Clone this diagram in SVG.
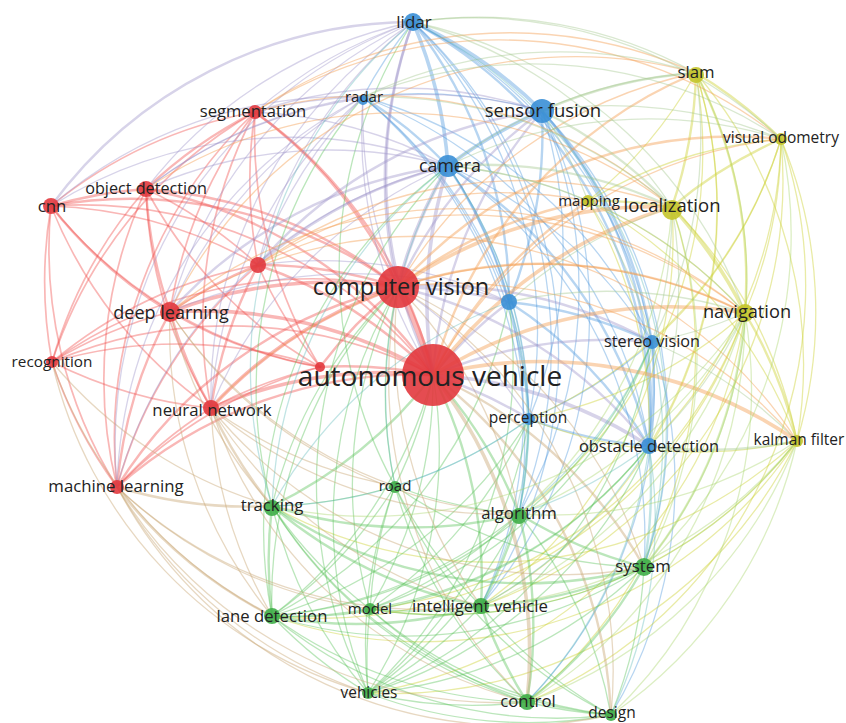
<svg xmlns="http://www.w3.org/2000/svg" width="846" height="723" viewBox="0 0 846 723">
<style>
path{fill:none;stroke-width:1.3;stroke-linecap:round}
.r path{stroke:#f04a48;stroke-opacity:.4;stroke-width:1.7}
.b path{stroke:#4a97dc;stroke-opacity:.4}
.y path{stroke:#cfd23a;stroke-opacity:.45}
.g path{stroke:#55c055;stroke-opacity:.4}
.o path{stroke:#f3a055;stroke-opacity:.45}
.p path{stroke:#9a90c8;stroke-opacity:.4}
.t path{stroke:#5cb8b8;stroke-opacity:.38}
.k path{stroke:#c9a878;stroke-opacity:.45}
.l path{stroke:#a8d468;stroke-opacity:.4}
.c path{stroke:#a5c890;stroke-opacity:.42}
path.w2{stroke-width:2.4}
path.w3{stroke-width:3.6}
path.w5{stroke-width:6}
.nr{fill:#e2393e;fill-opacity:.9}
.nb{fill:#3a8fd6;fill-opacity:.9}
.ny{fill:#c4c42a;fill-opacity:.9}
.ng{fill:#3fae48;fill-opacity:.9}
text{font-family:"Open Sans","Noto Sans","Liberation Sans",sans-serif;fill:#222;text-anchor:middle}
</style>
<rect width="846" height="723" fill="#fff"/>
<g id="connectors">
<g class="r">
<path d="M117 487A450 450 0 0 1 211 408"/>
<path d="M117 487A450 450 0 0 1 52 362"/>
<path class="w2" d="M117 487A450 450 0 0 1 170 312"/>
<path d="M117 487A450 450 0 0 1 51 206"/>
<path d="M117 487A450 450 0 0 1 146 189"/>
<path d="M117 487A450 450 0 0 1 258 265"/>
<path d="M117 487A450 450 0 0 1 255 112"/>
<path class="w2" d="M117 487A450 450 0 0 1 398 287"/>
<path d="M117 487A450 450 0 0 1 320 367"/>
<path d="M211 408A450 450 0 0 1 52 362"/>
<path d="M211 408A450 450 0 0 1 320 367"/>
<path class="w2" d="M211 408A450 450 0 0 1 170 312"/>
<path d="M211 408A450 450 0 0 1 51 206"/>
<path d="M211 408A450 450 0 0 1 146 189"/>
<path class="w2" d="M211 408A450 450 0 0 1 258 265"/>
<path d="M211 408A450 450 0 0 1 255 112"/>
<path class="w3" d="M211 408A450 450 0 0 1 398 287"/>
<path d="M52 362A450 450 0 0 1 170 312"/>
<path d="M52 362A450 450 0 0 1 51 206"/>
<path d="M52 362A450 450 0 0 1 146 189"/>
<path d="M52 362A450 450 0 0 1 258 265"/>
<path d="M52 362A450 450 0 0 1 398 287"/>
<path d="M52 362A450 450 0 0 1 255 112"/>
<path d="M52 362A450 450 0 0 1 320 367"/>
<path d="M320 367A450 450 0 0 1 170 312"/>
<path class="w2" d="M320 367A450 450 0 0 1 398 287"/>
<path d="M320 367A450 450 0 0 1 51 206"/>
<path d="M320 367A450 450 0 0 1 146 189"/>
<path d="M320 367A450 450 0 0 1 258 265"/>
<path d="M320 367A450 450 0 0 1 255 112"/>
<path class="w2" d="M170 312A450 450 0 0 1 51 206"/>
<path class="w2" d="M170 312A450 450 0 0 1 146 189"/>
<path class="w2" d="M170 312A450 450 0 0 1 258 265"/>
<path d="M170 312A450 450 0 0 1 255 112"/>
<path class="w3" d="M170 312A450 450 0 0 1 398 287"/>
<path class="w2" d="M51 206A450 450 0 0 1 146 189"/>
<path d="M51 206A450 450 0 0 1 258 265"/>
<path d="M51 206A450 450 0 0 1 255 112"/>
<path class="w2" d="M51 206A450 450 0 0 1 398 287"/>
<path d="M146 189A450 450 0 0 1 258 265"/>
<path class="w2" d="M146 189A450 450 0 0 1 255 112"/>
<path class="w2" d="M146 189A450 450 0 0 1 398 287"/>
<path d="M258 265A450 450 0 0 1 255 112"/>
<path class="w2" d="M258 265A450 450 0 0 1 398 287"/>
<path class="w2" d="M255 112A450 450 0 0 1 398 287"/>
<path class="w5" d="M398 287A450 450 0 0 1 433 375"/>
<path class="w3" d="M170 312A450 450 0 0 1 433 375"/>
<path class="w3" d="M211 408A450 450 0 0 1 433 375"/>
<path class="w2" d="M117 487A450 450 0 0 1 433 375"/>
<path d="M51 206A450 450 0 0 1 433 375"/>
<path class="w2" d="M146 189A450 450 0 0 1 433 375"/>
<path class="w2" d="M255 112A450 450 0 0 1 433 375"/>
<path d="M52 362A450 450 0 0 1 433 375"/>
<path class="w2" d="M258 265A450 450 0 0 1 433 375"/>
<path class="w2" d="M320 367A450 450 0 0 1 433 375"/>
</g>
<g class="b">
<path d="M363 97A450 450 0 0 1 413 22"/>
<path class="w2" d="M363 97A450 450 0 0 1 448 166"/>
<path d="M363 97A450 450 0 0 1 542 111"/>
<path d="M363 97A450 450 0 0 1 509 302"/>
<path d="M363 97A450 450 0 0 1 652 342"/>
<path d="M363 97A450 450 0 0 1 649 446"/>
<path d="M363 97A450 450 0 0 1 529 419"/>
<path class="w3" d="M413 22A450 450 0 0 1 448 166"/>
<path class="w3" d="M413 22A450 450 0 0 1 542 111"/>
<path class="w2" d="M413 22A450 450 0 0 1 509 302"/>
<path d="M413 22A450 450 0 0 1 652 342"/>
<path class="w2" d="M413 22A450 450 0 0 1 649 446"/>
<path d="M413 22A450 450 0 0 1 529 419"/>
<path class="w3" d="M448 166A450 450 0 0 1 542 111"/>
<path class="w2" d="M448 166A450 450 0 0 1 509 302"/>
<path d="M448 166A450 450 0 0 1 652 342"/>
<path class="w2" d="M448 166A450 450 0 0 1 649 446"/>
<path d="M448 166A450 450 0 0 1 529 419"/>
<path class="w2" d="M542 111A450 450 0 0 1 509 302"/>
<path class="w2" d="M542 111A450 450 0 0 1 652 342"/>
<path class="w2" d="M542 111A450 450 0 0 1 649 446"/>
<path d="M542 111A450 450 0 0 1 529 419"/>
<path class="w2" d="M509 302A450 450 0 0 1 652 342"/>
<path class="w2" d="M509 302A450 450 0 0 1 649 446"/>
<path d="M509 302A450 450 0 0 1 529 419"/>
<path class="w2" d="M652 342A450 450 0 0 1 649 446"/>
<path d="M652 342A450 450 0 0 1 529 419"/>
<path class="w2" d="M649 446A450 450 0 0 1 529 419"/>
<path d="M413 22A450 450 0 0 1 519 514"/>
<path d="M413 22A450 450 0 0 1 481 606"/>
<path d="M448 166A450 450 0 0 1 481 606"/>
<path d="M448 166A450 450 0 0 1 644 567"/>
<path d="M363 97A450 450 0 0 1 519 514"/>
<path d="M542 111A450 450 0 0 1 644 567"/>
<path d="M542 111A450 450 0 0 1 519 514"/>
<path d="M542 111A450 450 0 0 1 481 606"/>
<path d="M652 342A450 450 0 0 1 527 702"/>
<path d="M652 342A450 450 0 0 1 611 715"/>
</g>
<g class="y">
<path class="w2" d="M696 73A450 450 0 0 1 672 207"/>
<path class="w2" d="M696 73A450 450 0 0 1 781 139"/>
<path class="w2" d="M696 73A450 450 0 0 1 745 313"/>
<path d="M696 73A450 450 0 0 1 797 441"/>
<path d="M696 73A450 450 0 0 1 588 201"/>
<path class="w2" d="M588 201A450 450 0 0 1 672 207"/>
<path d="M588 201A450 450 0 0 1 781 139"/>
<path d="M588 201A450 450 0 0 1 745 313"/>
<path d="M588 201A450 450 0 0 1 797 441"/>
<path class="w2" d="M672 207A450 450 0 0 1 781 139"/>
<path class="w3" d="M672 207A450 450 0 0 1 745 313"/>
<path d="M672 207A450 450 0 0 1 797 441"/>
<path d="M781 139A450 450 0 0 1 745 313"/>
<path d="M781 139A450 450 0 0 1 797 441"/>
<path class="w2" d="M745 313A450 450 0 0 1 797 441"/>
<path d="M745 313A450 450 0 0 1 368 693"/>
<path d="M745 313A450 450 0 0 1 370 609"/>
<path d="M745 313A450 450 0 0 1 272 616"/>
<path d="M797 441A450 450 0 0 1 368 693"/>
<path d="M797 441A450 450 0 0 1 370 609"/>
<path d="M672 207A450 450 0 0 1 527 702"/>
<path d="M672 207A450 450 0 0 1 481 606"/>
<path d="M696 73A450 450 0 0 1 519 514"/>
<path d="M781 139A450 450 0 0 1 527 702"/>
<path d="M696 73A450 450 0 0 1 481 606"/>
<path d="M781 139A450 450 0 0 1 481 606"/>
<path d="M797 441A450 450 0 0 1 272 506"/>
<path d="M797 441A450 450 0 0 1 272 616"/>
<path d="M696 73A450 450 0 0 1 649 446"/>
<path d="M781 139A450 450 0 0 1 649 446"/>
<path d="M781 139A450 450 0 0 1 652 342"/>
<path d="M797 441A450 450 0 0 1 529 419"/>
<path d="M781 139A450 450 0 0 1 529 419"/>
<path d="M745 313A450 450 0 0 1 529 419"/>
<path d="M588 201A450 450 0 0 1 649 446"/>
</g>
<g class="g">
<path class="w2" d="M644 567A450 450 0 0 1 519 514"/>
<path d="M644 567A450 450 0 0 1 611 715"/>
<path class="w2" d="M644 567A450 450 0 0 1 527 702"/>
<path class="w2" d="M644 567A450 450 0 0 1 481 606"/>
<path d="M644 567A450 450 0 0 1 368 693"/>
<path d="M644 567A450 450 0 0 1 370 609"/>
<path d="M644 567A450 450 0 0 1 395 486"/>
<path d="M644 567A450 450 0 0 1 272 616"/>
<path class="w2" d="M644 567A450 450 0 0 1 272 506"/>
<path d="M519 514A450 450 0 0 1 611 715"/>
<path class="w2" d="M519 514A450 450 0 0 1 527 702"/>
<path class="w2" d="M519 514A450 450 0 0 1 481 606"/>
<path d="M519 514A450 450 0 0 1 368 693"/>
<path d="M519 514A450 450 0 0 1 370 609"/>
<path d="M519 514A450 450 0 0 1 395 486"/>
<path d="M519 514A450 450 0 0 1 272 616"/>
<path class="w2" d="M519 514A450 450 0 0 1 272 506"/>
<path d="M611 715A450 450 0 0 1 527 702"/>
<path d="M611 715A450 450 0 0 1 481 606"/>
<path d="M611 715A450 450 0 0 1 368 693"/>
<path d="M611 715A450 450 0 0 1 370 609"/>
<path d="M611 715A450 450 0 0 1 395 486"/>
<path d="M611 715A450 450 0 0 1 272 616"/>
<path d="M611 715A450 450 0 0 1 272 506"/>
<path class="w2" d="M527 702A450 450 0 0 1 481 606"/>
<path d="M527 702A450 450 0 0 1 368 693"/>
<path d="M527 702A450 450 0 0 1 370 609"/>
<path d="M527 702A450 450 0 0 1 395 486"/>
<path d="M527 702A450 450 0 0 1 272 616"/>
<path d="M527 702A450 450 0 0 1 272 506"/>
<path d="M481 606A450 450 0 0 1 368 693"/>
<path d="M481 606A450 450 0 0 1 370 609"/>
<path d="M481 606A450 450 0 0 1 395 486"/>
<path class="w2" d="M481 606A450 450 0 0 1 272 616"/>
<path class="w2" d="M481 606A450 450 0 0 1 272 506"/>
<path d="M368 693A450 450 0 0 1 370 609"/>
<path d="M368 693A450 450 0 0 1 395 486"/>
<path d="M368 693A450 450 0 0 1 272 616"/>
<path d="M368 693A450 450 0 0 1 272 506"/>
<path d="M370 609A450 450 0 0 1 395 486"/>
<path d="M370 609A450 450 0 0 1 272 616"/>
<path d="M370 609A450 450 0 0 1 272 506"/>
<path d="M395 486A450 450 0 0 1 272 616"/>
<path d="M395 486A450 450 0 0 1 272 506"/>
<path class="w2" d="M272 616A450 450 0 0 1 272 506"/>
<path class="w2" d="M433 375A450 450 0 0 1 272 506"/>
<path d="M433 375A450 450 0 0 1 395 486"/>
<path class="w2" d="M433 375A450 450 0 0 1 519 514"/>
<path d="M433 375A450 450 0 0 1 272 616"/>
<path d="M433 375A450 450 0 0 1 370 609"/>
<path class="w2" d="M433 375A450 450 0 0 1 481 606"/>
<path d="M433 375A450 450 0 0 1 368 693"/>
<path d="M272 506A450 450 0 0 1 398 287"/>
<path d="M395 486A450 450 0 0 1 398 287"/>
<path d="M272 616A450 450 0 0 1 398 287"/>
<path d="M370 609A450 450 0 0 1 398 287"/>
<path d="M368 693A450 450 0 0 1 398 287"/>
<path d="M649 446A450 450 0 0 1 272 616"/>
<path d="M652 342A450 450 0 0 1 272 616"/>
<path d="M649 446A450 450 0 0 1 368 693"/>
<path d="M652 342A450 450 0 0 1 368 693"/>
<path d="M649 446A450 450 0 0 1 370 609"/>
<path d="M529 419A450 450 0 0 1 272 616"/>
<path d="M529 419A450 450 0 0 1 368 693"/>
<path d="M529 419A450 450 0 0 1 370 609"/>
<path d="M652 342A450 450 0 0 1 370 609"/>
<path d="M509 302A450 450 0 0 1 272 616"/>
<path d="M509 302A450 450 0 0 1 368 693"/>
<path d="M272 616A450 450 0 0 1 448 166"/>
<path d="M368 693A450 450 0 0 1 448 166"/>
<path d="M272 506A450 450 0 0 1 363 97"/>
<path d="M395 486A450 450 0 0 1 413 22"/>
</g>
<g class="k">
<path class="w2" d="M433 375A450 450 0 0 1 644 567"/>
<path class="w3" d="M433 375A450 450 0 0 1 527 702"/>
<path class="w2" d="M433 375A450 450 0 0 1 611 715"/>
<path d="M398 287A450 450 0 0 1 519 514"/>
<path d="M398 287A450 450 0 0 1 644 567"/>
<path d="M481 606A450 450 0 0 1 398 287"/>
<path d="M527 702A450 450 0 0 1 398 287"/>
<path d="M398 287A450 450 0 0 1 611 715"/>
<path d="M368 693A450 450 0 0 1 117 487"/>
<path d="M527 702A450 450 0 0 1 117 487"/>
<path d="M611 715A450 450 0 0 1 117 487"/>
<path class="w2" d="M272 616A450 450 0 0 1 117 487"/>
<path class="w2" d="M272 506A450 450 0 0 1 117 487"/>
<path d="M370 609A450 450 0 0 1 117 487"/>
<path d="M481 606A450 450 0 0 1 117 487"/>
<path d="M368 693A450 450 0 0 1 52 362"/>
<path d="M272 616A450 450 0 0 1 52 362"/>
<path d="M272 506A450 450 0 0 1 52 362"/>
<path class="w2" d="M272 506A450 450 0 0 1 211 408"/>
<path d="M272 616A450 450 0 0 1 211 408"/>
<path d="M395 486A450 450 0 0 1 211 408"/>
<path d="M519 514A450 450 0 0 1 211 408"/>
<path d="M481 606A450 450 0 0 1 211 408"/>
<path d="M527 702A450 450 0 0 1 211 408"/>
<path d="M644 567A450 450 0 0 1 211 408"/>
<path d="M272 506A450 450 0 0 1 170 312"/>
<path d="M519 514A450 450 0 0 1 170 312"/>
<path d="M272 616A450 450 0 0 1 170 312"/>
<path d="M395 486A450 450 0 0 1 170 312"/>
</g>
<g class="p">
<path class="w2" d="M433 375A450 450 0 0 1 413 22"/>
<path d="M433 375A450 450 0 0 1 363 97"/>
<path class="w2" d="M433 375A450 450 0 0 1 542 111"/>
<path class="w3" d="M433 375A450 450 0 0 1 448 166"/>
<path class="w2" d="M433 375A450 450 0 0 1 509 302"/>
<path class="w2" d="M433 375A450 450 0 0 1 652 342"/>
<path class="w2" d="M433 375A450 450 0 0 1 529 419"/>
<path class="w3" d="M433 375A450 450 0 0 1 649 446"/>
<path class="w2" d="M398 287A450 450 0 0 1 413 22"/>
<path d="M398 287A450 450 0 0 1 363 97"/>
<path class="w2" d="M398 287A450 450 0 0 1 542 111"/>
<path class="w3" d="M398 287A450 450 0 0 1 448 166"/>
<path class="w2" d="M398 287A450 450 0 0 1 509 302"/>
<path class="w2" d="M398 287A450 450 0 0 1 652 342"/>
<path d="M398 287A450 450 0 0 1 529 419"/>
<path class="w2" d="M398 287A450 450 0 0 1 649 446"/>
<path d="M255 112A450 450 0 0 1 413 22"/>
<path d="M255 112A450 450 0 0 1 448 166"/>
<path d="M255 112A450 450 0 0 1 363 97"/>
<path d="M146 189A450 450 0 0 1 413 22"/>
<path class="w2" d="M51 206A450 450 0 0 1 413 22"/>
<path class="w2" d="M258 265A450 450 0 0 1 448 166"/>
<path d="M258 265A450 450 0 0 1 413 22"/>
<path class="w2" d="M170 312A450 450 0 0 1 448 166"/>
<path d="M170 312A450 450 0 0 1 413 22"/>
<path d="M146 189A450 450 0 0 1 448 166"/>
<path d="M255 112A450 450 0 0 1 542 111"/>
<path class="w2" d="M258 265A450 450 0 0 1 542 111"/>
<path d="M258 265A450 450 0 0 1 509 302"/>
<path d="M170 312A450 450 0 0 1 509 302"/>
<path d="M211 408A450 450 0 0 1 448 166"/>
<path d="M146 189A450 450 0 0 1 363 97"/>
<path d="M51 206A450 450 0 0 1 363 97"/>
<path d="M170 312A450 450 0 0 1 363 97"/>
<path d="M211 408A450 450 0 0 1 363 97"/>
<path d="M258 265A450 450 0 0 1 363 97"/>
<path d="M117 487A450 450 0 0 1 363 97"/>
<path d="M51 206A450 450 0 0 1 448 166"/>
<path d="M146 189A450 450 0 0 1 542 111"/>
<path d="M211 408A450 450 0 0 1 413 22"/>
<path d="M117 487A450 450 0 0 1 413 22"/>
<path d="M117 487A450 450 0 0 1 448 166"/>
</g>
<g class="o">
<path class="w2" d="M433 375A450 450 0 0 1 696 73"/>
<path d="M433 375A450 450 0 0 1 781 139"/>
<path class="w2" d="M433 375A450 450 0 0 1 588 201"/>
<path class="w3" d="M433 375A450 450 0 0 1 672 207"/>
<path class="w3" d="M433 375A450 450 0 0 1 745 313"/>
<path class="w3" d="M433 375A450 450 0 0 1 797 441"/>
<path d="M398 287A450 450 0 0 1 696 73"/>
<path class="w2" d="M398 287A450 450 0 0 1 781 139"/>
<path class="w2" d="M398 287A450 450 0 0 1 588 201"/>
<path class="w3" d="M398 287A450 450 0 0 1 672 207"/>
<path class="w2" d="M398 287A450 450 0 0 1 745 313"/>
<path d="M398 287A450 450 0 0 1 797 441"/>
<path d="M258 265A450 450 0 0 1 672 207"/>
<path d="M258 265A450 450 0 0 1 588 201"/>
<path d="M170 312A450 450 0 0 1 745 313"/>
<path d="M255 112A450 450 0 0 1 696 73"/>
<path d="M255 112A450 450 0 0 1 672 207"/>
<path d="M258 265A450 450 0 0 1 745 313"/>
<path d="M211 408A450 450 0 0 1 745 313"/>
<path d="M170 312A450 450 0 0 1 797 441"/>
<path d="M170 312A450 450 0 0 1 696 73"/>
<path d="M255 112A450 450 0 0 1 781 139"/>
<path d="M146 189A450 450 0 0 1 672 207"/>
</g>
<g class="c">
<path class="w2" d="M448 166A450 450 0 0 1 672 207"/>
<path d="M448 166A450 450 0 0 1 588 201"/>
<path d="M448 166A450 450 0 0 1 696 73"/>
<path d="M448 166A450 450 0 0 1 781 139"/>
<path class="w2" d="M542 111A450 450 0 0 1 696 73"/>
<path class="w2" d="M542 111A450 450 0 0 1 672 207"/>
<path d="M542 111A450 450 0 0 1 588 201"/>
<path d="M542 111A450 450 0 0 1 781 139"/>
<path d="M413 22A450 450 0 0 1 696 73"/>
<path d="M413 22A450 450 0 0 1 672 207"/>
<path d="M413 22A450 450 0 0 1 781 139"/>
<path d="M413 22A450 450 0 0 1 745 313"/>
<path d="M363 97A450 450 0 0 1 696 73"/>
<path d="M363 97A450 450 0 0 1 781 139"/>
<path d="M363 97A450 450 0 0 1 672 207"/>
<path d="M745 313A450 450 0 0 1 652 342"/>
<path d="M652 342A450 450 0 0 1 797 441"/>
<path class="w2" d="M797 441A450 450 0 0 1 649 446"/>
<path d="M745 313A450 450 0 0 1 649 446"/>
<path d="M672 207A450 450 0 0 1 652 342"/>
<path d="M509 302A450 450 0 0 1 745 313"/>
<path d="M588 201A450 450 0 0 1 652 342"/>
<path d="M672 207A450 450 0 0 1 649 446"/>
<path d="M696 73A450 450 0 0 1 652 342"/>
<path d="M448 166A450 450 0 0 1 745 313"/>
<path d="M509 302A450 450 0 0 1 672 207"/>
</g>
<g class="t">
<path class="w2" d="M649 446A450 450 0 0 1 644 567"/>
<path d="M529 419A450 450 0 0 1 519 514"/>
<path d="M652 342A450 450 0 0 1 644 567"/>
<path d="M649 446A450 450 0 0 1 519 514"/>
<path d="M272 506A450 450 0 0 1 448 166"/>
<path d="M272 506A450 450 0 0 1 413 22"/>
<path d="M529 419A450 450 0 0 1 481 606"/>
<path d="M509 302A450 450 0 0 1 519 514"/>
<path d="M649 446A450 450 0 0 1 527 702"/>
<path d="M652 342A450 450 0 0 1 519 514"/>
<path d="M413 22A450 450 0 0 1 644 567"/>
<path d="M395 486A450 450 0 0 1 448 166"/>
<path d="M649 446A450 450 0 0 1 481 606"/>
<path d="M529 419A450 450 0 0 1 272 506"/>
<path d="M272 506A450 450 0 0 1 509 302"/>
<path d="M448 166A450 450 0 0 1 519 514"/>
<path d="M529 419A450 450 0 0 1 395 486"/>
<path d="M649 446A450 450 0 0 1 611 715"/>
</g>
<g class="l">
<path class="w2" d="M745 313A450 450 0 0 1 644 567"/>
<path d="M797 441A450 450 0 0 1 644 567"/>
<path d="M672 207A450 450 0 0 1 644 567"/>
<path d="M745 313A450 450 0 0 1 519 514"/>
<path d="M797 441A450 450 0 0 1 527 702"/>
<path d="M745 313A450 450 0 0 1 527 702"/>
<path d="M745 313A450 450 0 0 1 481 606"/>
<path d="M781 139A450 450 0 0 1 644 567"/>
<path d="M797 441A450 450 0 0 1 519 514"/>
<path d="M672 207A450 450 0 0 1 519 514"/>
<path d="M696 73A450 450 0 0 1 644 567"/>
<path d="M745 313A450 450 0 0 1 611 715"/>
<path d="M797 441A450 450 0 0 1 611 715"/>
<path d="M797 441A450 450 0 0 1 481 606"/>
<path d="M745 313A450 450 0 0 1 272 506"/>
</g>
</g>
<g id="n-av"><circle class="nr" cx="433" cy="375" r="31"/><text x="430" y="376" dy=".35em" font-size="28">autonomous vehicle</text></g>
<g id="n-cv"><circle class="nr" cx="398" cy="287" r="21"/><text x="401" y="287" dy=".35em" font-size="23.5">computer vision</text></g>
<g id="n-dl"><circle class="nr" cx="170" cy="312" r="10"/><text x="171" y="313" dy=".35em" font-size="18">deep learning</text></g>
<g id="n-nn"><circle class="nr" cx="211" cy="408" r="8"/><text x="212" y="410" dy=".35em" font-size="16.8">neural network</text></g>
<g id="n-ml"><circle class="nr" cx="117" cy="487" r="7"/><text x="116" y="486" dy=".35em" font-size="16.8">machine learning</text></g>
<g id="n-cnn"><circle class="nr" cx="51" cy="206" r="8"/><text x="52" y="206" dy=".35em" font-size="16.8">cnn</text></g>
<g id="n-od"><circle class="nr" cx="146" cy="189" r="8"/><text x="146" y="188" dy=".35em" font-size="16.2">object detection</text></g>
<g id="n-seg"><circle class="nr" cx="255" cy="112" r="7"/><text x="253" y="111" dy=".35em" font-size="16.6">segmentation</text></g>
<g id="n-rec"><circle class="nr" cx="52" cy="362" r="6"/><text x="52" y="362" dy=".35em" font-size="15.3">recognition</text></g>
<g id="n-r1"><circle class="nr" cx="258" cy="265" r="8"/></g>
<g id="n-r2"><circle class="nr" cx="320" cy="367" r="5"/></g>
<g id="n-lid"><circle class="nb" cx="413" cy="22" r="9"/><text x="414" y="22" dy=".35em" font-size="17">lidar</text></g>
<g id="n-rad"><circle class="nb" cx="363" cy="100" r="5"/><text x="364" y="97" dy=".35em" font-size="15">radar</text></g>
<g id="n-sf"><circle class="nb" cx="542" cy="111" r="12"/><text x="543" y="111" dy=".35em" font-size="18.5">sensor fusion</text></g>
<g id="n-cam"><circle class="nb" cx="448" cy="166" r="11"/><text x="450" y="166" dy=".35em" font-size="17.8">camera</text></g>
<g id="n-b1"><circle class="nb" cx="509" cy="302" r="8"/></g>
<g id="n-sv"><circle class="nb" cx="652" cy="342" r="7"/><text x="652" y="341" dy=".35em" font-size="16.2">stereo vision</text></g>
<g id="n-per"><circle class="nb" cx="529" cy="419" r="6"/><text x="528" y="418" dy=".35em" font-size="15.5">perception</text></g>
<g id="n-obs"><circle class="nb" cx="649" cy="446" r="8"/><text x="649" y="446" dy=".35em" font-size="16.4">obstacle detection</text></g>
<g id="n-slam"><circle class="ny" cx="696" cy="75" r="8"/><text x="696" y="72" dy=".35em" font-size="16.8">slam</text></g>
<g id="n-vo"><circle class="ny" cx="781" cy="139" r="6"/><text x="781" y="138" dy=".35em" font-size="15.5">visual odometry</text></g>
<g id="n-map"><circle class="ny" cx="588" cy="201" r="6"/><text x="589" y="201" dy=".35em" font-size="15">mapping</text></g>
<g id="n-loc"><circle class="ny" cx="672" cy="210" r="10"/><text x="672" y="206" dy=".35em" font-size="18.5">localization</text></g>
<g id="n-nav"><circle class="ny" cx="745" cy="313" r="9"/><text x="747" y="312" dy=".35em" font-size="18.2">navigation</text></g>
<g id="n-kf"><circle class="ny" cx="797" cy="441" r="6"/><text x="799" y="440" dy=".35em" font-size="15.5">kalman filter</text></g>
<g id="n-tr"><circle class="ng" cx="272" cy="508" r="8"/><text x="272" y="505" dy=".35em" font-size="16.8">tracking</text></g>
<g id="n-road"><circle class="ng" cx="395" cy="487" r="6"/><text x="395" y="486" dy=".35em" font-size="15">road</text></g>
<g id="n-alg"><circle class="ng" cx="519" cy="516" r="8"/><text x="519" y="513" dy=".35em" font-size="16.8">algorithm</text></g>
<g id="n-sys"><circle class="ng" cx="644" cy="567" r="9"/><text x="643" y="566" dy=".35em" font-size="16.8">system</text></g>
<g id="n-ld"><circle class="ng" cx="272" cy="616" r="8"/><text x="272" y="616" dy=".35em" font-size="16.7">lane detection</text></g>
<g id="n-mod"><circle class="ng" cx="370" cy="609" r="6"/><text x="370" y="609" dy=".35em" font-size="15">model</text></g>
<g id="n-iv"><circle class="ng" cx="481" cy="606" r="8"/><text x="480" y="606" dy=".35em" font-size="16.8">intelligent vehicle</text></g>
<g id="n-veh"><circle class="ng" cx="368" cy="693" r="6"/><text x="369" y="693" dy=".35em" font-size="15.4">vehicles</text></g>
<g id="n-ctrl"><circle class="ng" cx="527" cy="702" r="8"/><text x="528" y="701" dy=".35em" font-size="16.8">control</text></g>
<g id="n-des"><circle class="ng" cx="611" cy="715" r="6"/><text x="612" y="713" dy=".35em" font-size="15.5">design</text></g>
</svg>
